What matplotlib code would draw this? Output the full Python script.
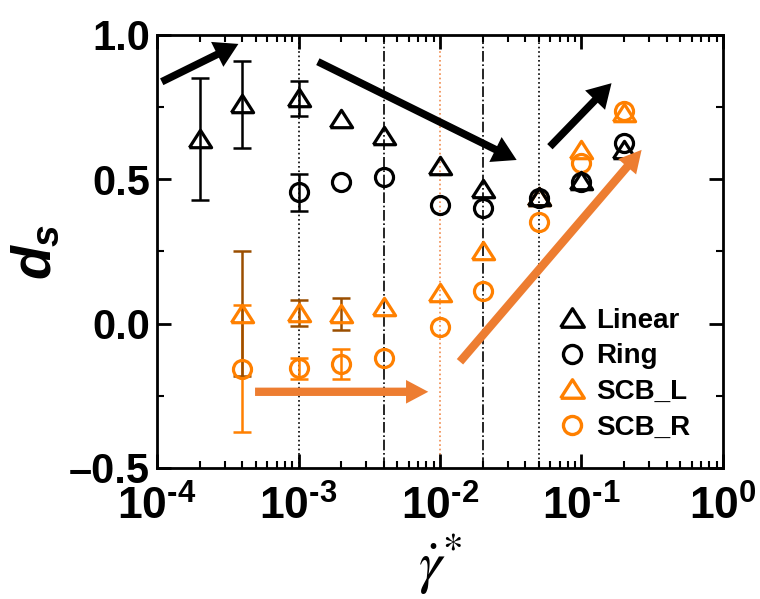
import numpy as np
import matplotlib
matplotlib.use("Agg")
import matplotlib.pyplot as plt
from matplotlib.path import Path
from matplotlib.lines import Line2D

plt.rcParams['font.family'] = ['Liberation Sans', 'DejaVu Sans']
plt.rcParams['mathtext.fontset'] = 'custom'
plt.rcParams['mathtext.rm'] = 'Liberation Sans:bold'
plt.rcParams['mathtext.it'] = 'Liberation Sans:bold:italic'
plt.rcParams['mathtext.bf'] = 'Liberation Sans:bold'

# ---------------- data ----------------
linear_x = [2e-4, 4e-4, 1e-3, 2e-3, 4e-3, 1e-2, 2e-2, 5e-2, 1e-1, 2e-1]
linear_y = [0.64, 0.76, 0.78, 0.71, 0.65, 0.545, 0.465, 0.44, 0.495, 0.60]
linear_err = [0.21, 0.15, 0.06, 0, 0, 0, 0, 0, 0, 0]

ring_x = [1e-3, 2e-3, 4e-3, 1e-2, 2e-2, 5e-2, 1e-1, 2e-1]
ring_y = [0.455, 0.49, 0.508, 0.41, 0.40, 0.435, 0.49, 0.625]
ring_err = [0.065, 0, 0, 0, 0, 0, 0, 0]

scbl_x = [4e-4, 1e-3, 2e-3, 4e-3, 1e-2, 2e-2, 5e-2, 1e-1, 2e-1]
scbl_y = [0.035, 0.036, 0.034, 0.056, 0.105, 0.25, 0.44, 0.60, 0.73]
scbl_err = [0.215, 0.045, 0.055, 0, 0, 0, 0, 0, 0]

scbr_x = [4e-4, 1e-3, 2e-3, 4e-3, 1e-2, 2e-2, 5e-2, 1e-1, 2e-1]
scbr_y = [-0.157, -0.155, -0.14, -0.12, -0.013, 0.114, 0.353, 0.556, 0.735]
scbr_err = [0.22, 0.035, 0.053, 0, 0, 0, 0, 0, 0]

# reference lines (x position, colour, style)
vlines = [(1e-3, 'k', ':'), (4e-3, 'k', '-.'), (1e-2, '#F08A4B', ':'),
          (2e-2, 'k', '-.'), (5e-2, 'k', ':')]

# annotation arrows: (tail, head, colour)
arrows = [((1.08e-4, 0.838), (3.76e-4, 0.969), 'k'),
          ((1.37e-3, 0.9075), (3.48e-2, 0.567), 'k'),
          ((5.98e-2, 0.613), (0.163, 0.833), 'k'),
          ((4.93e-4, -0.236), (8.26e-3, -0.236), '#ED7D31'),
          ((1.384e-2, -0.132), (0.266, 0.602), '#ED7D31')]

x_ticks = [1e-4, 1e-3, 1e-2, 1e-1, 1e0]
x_ticklabels = [r'$10^{\text{-}4}$', r'$10^{\text{-}3}$', r'$10^{\text{-}2}$',
                r'$10^{\text{-}1}$', r'$10^{0}$']
y_ticks = [-0.5, 0.0, 0.5, 1.0]
y_ticklabels = ['–0.5', '0.0', '0.5', '1.0']

# ---------------- plotting ----------------
orange = '#FF8000'
brown = '#9A4E00'
tri = Path([(-1.15, -0.85), (1.15, -0.85), (0, 0.95), (-1.15, -0.85)])

fig = plt.figure(figsize=(7.6, 5.99), dpi=100)
ax = fig.add_axes([0.2066, 0.2187, 0.7447, 0.7229])

for xv, c, ls in vlines:
    ax.axvline(xv, color=c, ls=ls, lw=1.2, zorder=1)

def series(x, y, err, marker, ms, color, ecolor):
    ax.errorbar(x, y, yerr=np.where(np.array(err) > 0, err, np.nan),
                fmt='none', ecolor=ecolor, elinewidth=1.8, capsize=6.5,
                capthick=1.8, zorder=2)
    ax.plot(x, y, ls='none', marker=marker, ms=ms, mfc='none', mec=color,
            mew=2.3, zorder=3)

series(scbr_x, scbr_y, scbr_err, 'o', 13, orange, orange)
series(scbl_x, scbl_y, scbl_err, tri, 16, orange, brown)
series(linear_x, linear_y, linear_err, tri, 16, 'k', 'k')
series(ring_x, ring_y, ring_err, 'o', 13, 'k', 'k')

for tail, head, c in arrows:
    if c == 'k':
        style = 'simple,head_length=0.85,head_width=1.0,tail_width=0.27'
    else:
        style = 'simple,head_length=0.8,head_width=0.85,tail_width=0.3'
    ax.annotate('', xy=head, xytext=tail,
                arrowprops=dict(arrowstyle=style, mutation_scale=20, color=c,
                                lw=0, shrinkA=0, shrinkB=0), zorder=4)

ax.set_xscale('log')
ax.set_xlim(1e-4, 1e0)
ax.set_ylim(-0.5, 1.0)
ax.set_xticks(x_ticks)
ax.set_xticklabels(x_ticklabels, fontsize=32)
ax.set_yticks(y_ticks)
ax.set_yticklabels(y_ticklabels, fontsize=30, fontweight='bold')
ax.set_yticks([-0.25, 0.25, 0.75], minor=True)
ax.tick_params(which='both', direction='in', top=True, right=True)
ax.tick_params(which='major', length=10, width=2)
ax.tick_params(which='minor', length=5, width=1.5)
ax.tick_params(axis='x', which='major', pad=13)
ax.tick_params(axis='y', which='major', pad=5)
for s in ax.spines.values():
    s.set_linewidth(2)

ax.set_ylabel(r'$d_{s}$', fontsize=40, labelpad=4)
ax.set_xlabel(r'$\dot{\gamma}^{*}$', fontsize=42, math_fontfamily='stix',
              labelpad=2)

handles = [Line2D([], [], ls='none', marker=tri, ms=17, mfc='none', mec='k', mew=2.4),
           Line2D([], [], ls='none', marker='o', ms=13, mfc='none', mec='k', mew=2.4),
           Line2D([], [], ls='none', marker=tri, ms=17, mfc='none', mec=orange, mew=2.4),
           Line2D([], [], ls='none', marker='o', ms=13, mfc='none', mec=orange, mew=2.4)]
ax.legend(handles, ['Linear', 'Ring', 'SCB_L', 'SCB_R'], loc='lower left',
          bbox_to_anchor=(0.66, 0.005), frameon=False, handletextpad=0.25,
          handlelength=1.2, labelspacing=0.35,
          prop={'weight': 'bold', 'size': 20})

fig.savefig('out.png', dpi=100)
